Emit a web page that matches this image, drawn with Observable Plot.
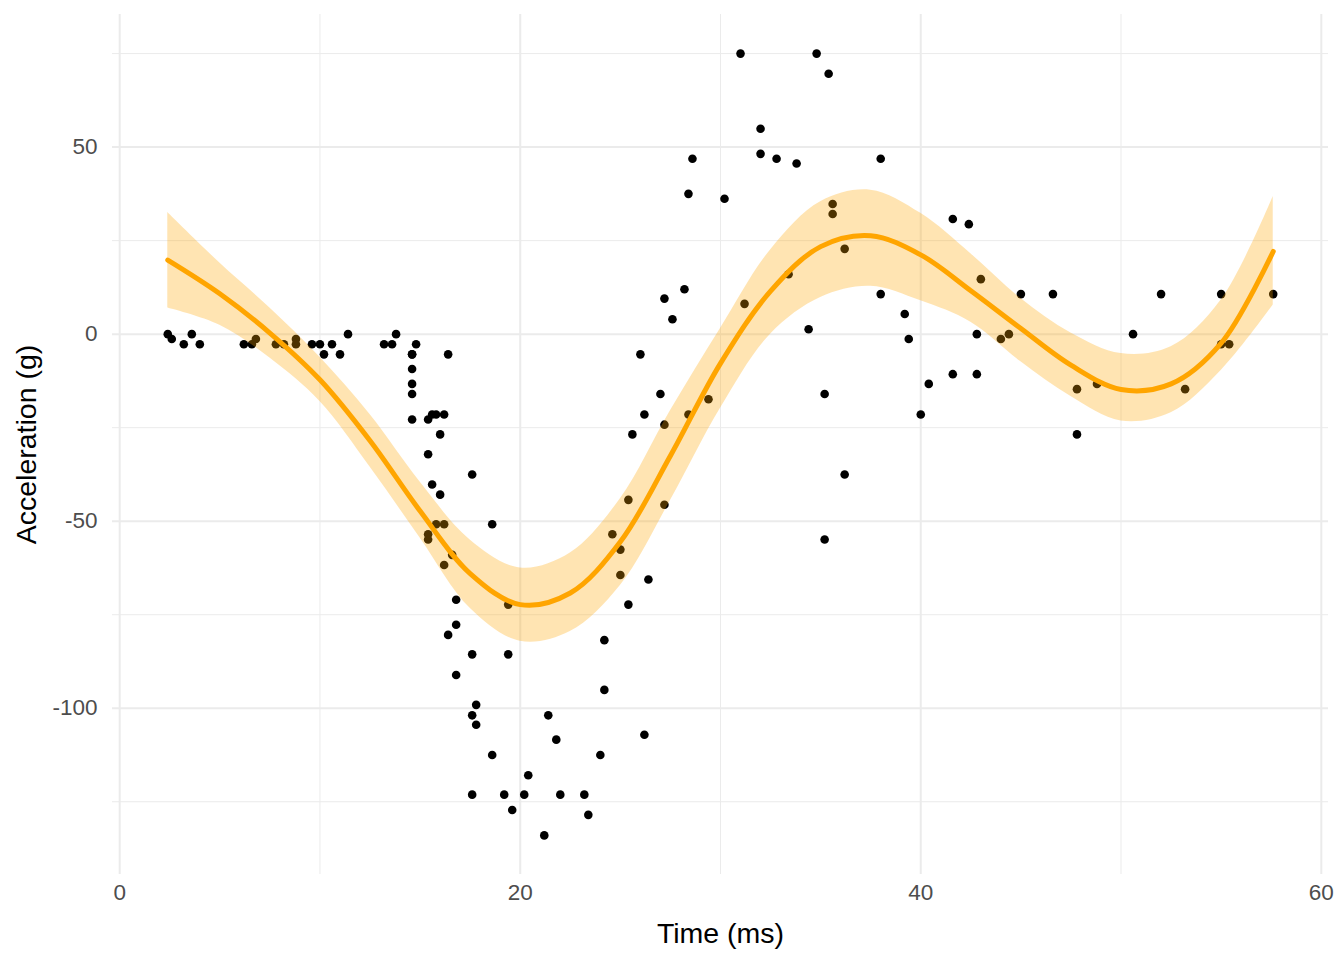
<!DOCTYPE html>
<html lang="en">
  <head>
    <meta charset="UTF-8" />
    <title>Motorcycle acceleration</title>
    <style>
      body { margin: 0; background: #fff; }
    </style>
  </head>
  <body>
    <div id="chart"></div>

    <script src="https://cdn.jsdelivr.net/npm/d3@7"></script>
    <script src="https://cdn.jsdelivr.net/npm/@observablehq/plot@0.6"></script>

    <script>
      // raw observations (time in ms, acceleration in g)
      const times = [2.4, 2.6, 3.2, 3.6, 4.0, 6.2, 6.6, 6.8, 7.8, 8.2, 8.8, 8.8, 9.6, 10.0, 10.2, 10.6, 11.0, 11.4, 13.2, 13.6,
        13.8, 14.6, 14.6, 14.6, 14.6, 14.6, 14.6, 14.8, 15.4, 15.4, 15.4, 15.4, 15.6, 15.6, 15.8, 15.8, 16.0, 16.0, 16.2, 16.2,
        16.2, 16.4, 16.4, 16.6, 16.8, 16.8, 16.8, 17.6, 17.6, 17.6, 17.6, 17.8, 17.8, 18.6, 18.6, 19.2, 19.4, 19.4, 19.6, 20.2,
        20.4, 21.2, 21.4, 21.8, 22.0, 23.2, 23.4, 24.0, 24.2, 24.2, 24.6, 25.0, 25.0, 25.4, 25.4, 25.6, 26.0, 26.2, 26.2, 26.4,
        27.0, 27.2, 27.2, 27.2, 27.6, 28.2, 28.4, 28.4, 28.6, 29.4, 30.2, 31.0, 31.2, 32.0, 32.0, 32.8, 33.4, 33.8, 34.4, 34.8,
        35.2, 35.2, 35.4, 35.6, 35.6, 36.2, 36.2, 38.0, 38.0, 39.2, 39.4, 40.0, 40.4, 41.6, 41.6, 42.4, 42.8, 42.8, 43.0, 44.0,
        44.4, 45.0, 46.6, 47.8, 47.8, 48.8, 50.6, 52.0, 53.2, 55.0, 55.0, 55.4, 57.6];
      const accel = [0.0, -1.3, -2.7, 0.0, -2.7, -2.7, -2.7, -1.3, -2.7, -2.7, -1.3, -2.7, -2.7, -2.7, -5.4, -2.7, -5.4, 0.0, -2.7, -2.7,
        0.0, -13.3, -5.4, -5.4, -9.3, -16.0, -22.8, -2.7, -22.8, -32.1, -53.5, -54.9, -40.2, -21.5, -21.5, -50.8, -42.9, -26.8, -21.5, -50.8,
        -61.7, -5.4, -80.4, -59.0, -71.0, -91.1, -77.7, -37.5, -85.6, -123.1, -101.9, -99.1, -104.4, -112.5, -50.8, -123.1, -85.6, -72.3, -127.2, -123.1,
        -117.9, -134.0, -101.9, -108.4, -123.1, -123.1, -128.5, -112.5, -95.1, -81.8, -53.5, -64.4, -57.6, -72.3, -44.3, -26.8, -5.4, -107.1, -21.5, -65.6,
        -16.0, -45.6, -24.2, 9.5, 4.0, 12.0, -21.5, 37.5, 46.9, -17.4, 36.2, 75.0, 8.1, 54.9, 48.2, 46.9, 16.0, 45.6, 1.3, 75.0,
        -16.0, -54.9, 69.6, 34.8, 32.1, -37.5, 22.8, 46.9, 10.7, 5.4, -1.3, -21.5, -13.3, 30.8, -10.7, 29.4, 0.0, -10.7, 14.7, -1.3,
        0.0, 10.7, 10.7, -26.8, -14.7, -13.3, 0.0, 10.7, -14.7, -2.7, 10.7, -2.7, 10.7];

      // smoother: fitted line and its band
      const smoothX = [2.4, 5, 7.5, 10, 12.5, 15, 17.5, 20, 22.5, 25, 27.5, 30, 32.5, 35, 37.5, 40, 42.5, 45, 47.5, 50, 52.5, 55, 57.6];
      const smoothFit = [19.8, 10.8, 0.3, -12.2, -28.5, -47.3, -64.0, -72.3, -69.2, -55.5, -32.5, -7.8, 11.5, 23.4, 26.3, 21.2, 11.6, 1.5, -8.3, -14.8, -13.3, -2.4, 22.1];
      const smoothUpper = [32.5, 19.0, 7.0, -6.2, -21.5, -39.5, -55.0, -62.5, -58.5, -44.0, -20.5, 1.5, 22.5, 35.4, 38.5, 32.3, 21.5, 9.5, 0.3, -5.2, -3.4, 9.1, 36.8];
      const smoothLower = [7.0, 2.4, -6.4, -18.0, -35.5, -54.5, -73.3, -82.1, -79.5, -67.2, -44.5, -19.8, 0.0, 9.8, 12.8, 8.9, 3.2, -7.4, -16.7, -23.2, -21.0, -9.7, 7.8];

      const xTicks = [0, 20, 40, 60];
      const xMinor = [10, 30, 50];
      const yTicks = [-100, -50, 0, 50];
      const yMinor = [-125, -75, -25, 25, 75];

      const points = times.map((t, i) => ({ time: t, accel: accel[i] }));
      const smooth = smoothX.map((x, i) => ({
        x, fit: smoothFit[i], lo: smoothLower[i], hi: smoothUpper[i]
      }));

      const plot = Plot.plot({
        width: 1344,
        height: 960,
        marginLeft: 112,
        marginRight: 16,
        marginTop: 14,
        marginBottom: 86,
        style: {
          fontFamily: "'Liberation Sans', Arial, sans-serif",
          fontSize: "22.5px",
          background: "#fff"
        },
        x: { domain: [-0.36, 60.36] },
        y: { domain: [-144.45, 85.45] },
        marks: [
          Plot.ruleX(xMinor, { stroke: "#EBEBEB", strokeWidth: 1 }),
          Plot.ruleY(yMinor, { stroke: "#EBEBEB", strokeWidth: 1 }),
          Plot.ruleX(xTicks, { stroke: "#EBEBEB", strokeWidth: 2 }),
          Plot.ruleY(yTicks, { stroke: "#EBEBEB", strokeWidth: 2 }),
          Plot.axisX({ ticks: xTicks, tickSize: 0, tickPadding: 10, color: "#4D4D4D", label: null }),
          Plot.axisY({ ticks: yTicks, tickSize: 0, tickPadding: 15, color: "#4D4D4D", label: null,
            tickFormat: (d) => String(d) }),
          Plot.dot(points, { x: "time", y: "accel", r: 4.3, fill: "black", stroke: null }),
          Plot.areaY(smooth, { x: "x", y1: "lo", y2: "hi", fill: "orange", fillOpacity: 0.3, curve: "catmull-rom" }),
          Plot.line(smooth, { x: "x", y: "fit", stroke: "orange", strokeWidth: 5, curve: "catmull-rom" }),
          Plot.text(["Time (ms)"], { text: (d) => d, frameAnchor: "bottom", dy: 68, fontSize: 28.5, fill: "black" }),
          Plot.text(["Acceleration (g)"], { text: (d) => d, frameAnchor: "left", textAnchor: "middle", dx: -86,
            rotate: -90, fontSize: 28.5, fill: "black" })
        ]
      });

      document.querySelector("#chart").append(plot);
    </script>
  </body>
</html>
